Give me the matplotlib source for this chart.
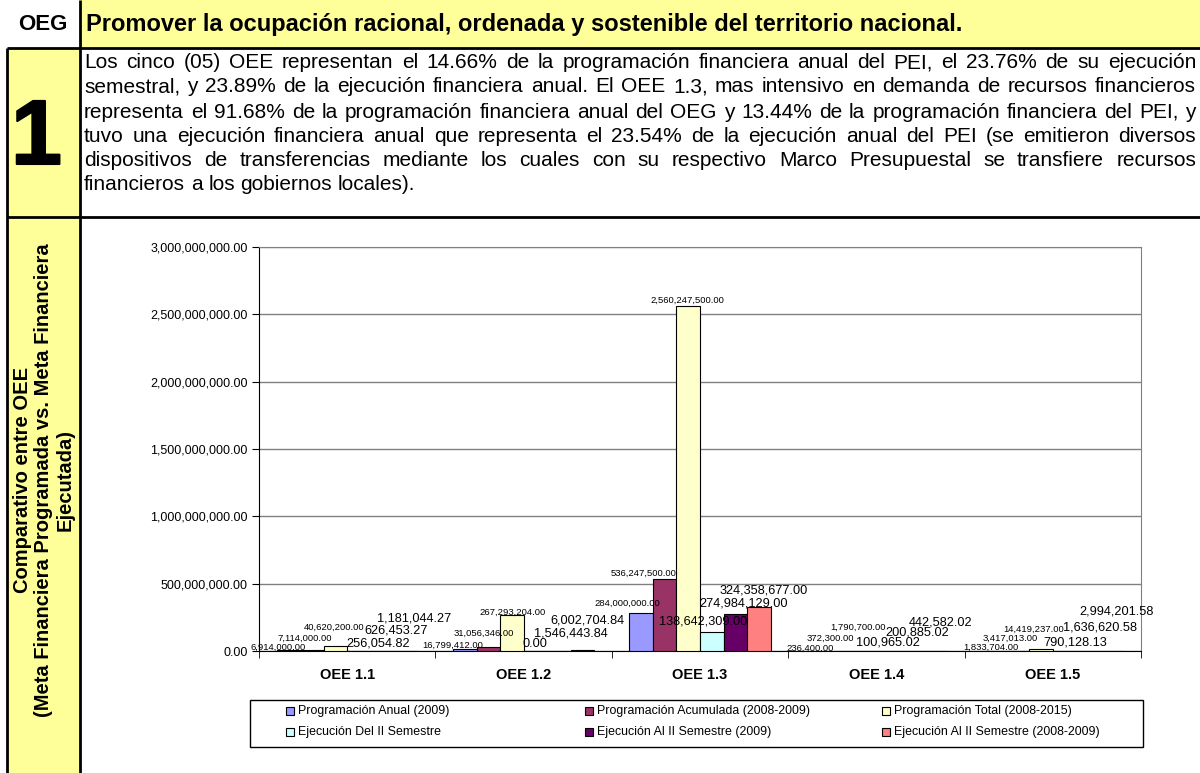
import numpy as np
import matplotlib
matplotlib.use('Agg')
import matplotlib.pyplot as plt
import matplotlib.patheffects as pe
from matplotlib.patches import Rectangle
from matplotlib.ticker import FuncFormatter, MultipleLocator, FixedLocator

plt.rcParams['font.family'] = ['Liberation Sans', 'DejaVu Sans']

# data
categories = ['OEE 1.1', 'OEE 1.2', 'OEE 1.3', 'OEE 1.4', 'OEE 1.5']
series_names = ['Programación Anual (2009)', 'Programación Acumulada (2008-2009)',
                'Programación Total (2008-2015)', 'Ejecución Del II Semestre',
                'Ejecución Al II Semestre (2009)', 'Ejecución Al II Semestre (2008-2009)']
prog_anual = [6914000.00, 16799412.00, 284000000.00, 236400.00, 1833704.00]
prog_acum = [7114000.00, 31056346.00, 536247500.00, 372300.00, 3417013.00]
prog_total = [40620200.00, 267293204.00, 2560247500.00, 1790700.00, 14419237.00]
ejec_sem = [256054.82, 0.00, 138642309.00, 100965.02, 790128.13]
ejec_2009 = [626453.27, 1546443.84, 274984129.00, 200885.02, 1636620.58]
ejec_0809 = [1181044.27, 6002704.84, 324358677.00, 442582.02, 2994201.58]
series = [prog_anual, prog_acum, prog_total, ejec_sem, ejec_2009, ejec_0809]

colors = ['#9999FF', '#993366', '#FFFFCC', '#CCFFFF', '#660066', '#FF8080']

# label offsets in pixels (dx, dy above bar top), the Excel labels were dragged around
label_off = [
    [(-10, 3), (-12, 3), (-14, 9), (-7, 3), (-3, 3)],
    [(-7, 12), (-5, 14), (-21, 5), (-11, 13), (-7, 12)],
    [(-1, 18), (1, 3), (-1, 6), (-7, 23), (-7, 20)],
    [(19, 7), (0, 7), (-9, 11), (0, 8), (11, 8)],
    [(14, 20), (12, 17), (8, 10), (6, 18), (12, 23)],
    [(8, 32), (5, 30), (5, 17), (5, 28), (5, 39)],
]

header = 'Promover la ocupación racional, ordenada y sostenible del territorio nacional.'
para = ['Los cinco (05) OEE representan el 14.66% de la programación financiera anual del PEI, el 23.76% de su ejecución',
        'semestral, y 23.89% de la ejecución financiera anual. El OEE 1.3, mas intensivo en demanda de recursos financieros',
        'representa el 91.68% de la programación financiera anual del OEG y 13.44% de la programación financiera del PEI, y',
        'tuvo una ejecución financiera anual que representa el 23.54% de la ejecución anual del PEI (se emitieron diversos',
        'dispositivos de transferencias mediante los cuales con su respectivo Marco Presupuestal se transfiere recursos',
        'financieros a los gobiernos locales).']
side_text = 'Comparativo entre OEE\n(Meta Financiera Programada vs. Meta Financiera\nEjecutada)'

W, H = 1200, 773
fig = plt.figure(figsize=(W / 100, H / 100), dpi=100)
fig.patch.set_facecolor('white')

# background "table" in pixel coordinates
bg = fig.add_axes([0, 0, 1, 1])
bg.set_xlim(0, W)
bg.set_ylim(H, 0)
bg.axis('off')
yellow = '#FFFF99'
bg.add_patch(Rectangle((80, 0), W - 80, 48, fc=yellow, ec='none'))
bg.add_patch(Rectangle((7, 48), 73, H - 48, fc=yellow, ec='none'))
lk = dict(color='black', lw=2, solid_capstyle='butt')
bg.plot([7, W], [48, 48], **lk)
bg.plot([7, W], [217, 217], **lk)
bg.plot([80, 80], [0, H], **lk)
bg.plot([7, 7], [48, H], **lk)

bg.text(43, 24, 'OEG', ha='center', va='center', weight='bold', size=16)
bg.text(86, 24, header, ha='left', va='center', weight='bold', size=17)
bg.text(11, 140, '1', ha='left', va='center', weight='bold', size=66,
        path_effects=[pe.withStroke(linewidth=1.5, foreground='black')])
bg.text(44, 480, side_text, ha='center', va='center', weight='bold', size=14.5,
        rotation=90, linespacing=1.15, multialignment='center')

fig.canvas.draw()
renderer = fig.canvas.get_renderer()
para_font = matplotlib.font_manager.FontProperties(family='Liberation Sans', size=15)


def text_width(s):
    w, h, d = renderer.get_text_width_height_descent(s, para_font, ismath=False)
    return w


space_w = text_width('a a') - 2 * text_width('a')


def justify(line, y, x0, x1, last=False):
    words = line.split()
    widths = [text_width(w) for w in words]
    gap = space_w if last else (x1 - x0 - sum(widths)) / (len(words) - 1)
    xx = x0
    for w, wd in zip(words, widths):
        bg.text(xx, y, w, va='center', ha='left', size=15)
        xx += wd + gap


line_y = [63, 87, 112, 136, 161, 185]
for i, (line, y) in enumerate(zip(para, line_y)):
    justify(line, y, 84, 1196, last=(i == len(para) - 1))

# chart
ax = fig.add_axes([259 / W, 1 - 651 / H, (1141 - 259) / W, (651 - 247) / H])
ax.set_zorder(2)
x = np.arange(len(categories))
bw = 0.8 / 6
for i, (vals, c) in enumerate(zip(series, colors)):
    pos = x + (i - 2.5) * bw
    ax.bar(pos, vals, width=bw, color=c, edgecolor='black', linewidth=0.8, zorder=3)
    small = i < 3
    for j, (px, v) in enumerate(zip(pos, vals)):
        dx, dy = label_off[i][j]
        ax.annotate(f'{v:,.2f}', (px, v), xytext=(dx, dy), textcoords='offset pixels',
                    ha='center', va='center', size=6.8 if small else 9.2, zorder=5)

ax.set_xlim(-0.5, len(categories) - 0.5)
ax.set_ylim(0, 3e9)
ax.yaxis.set_major_locator(MultipleLocator(5e8))
ax.yaxis.set_major_formatter(FuncFormatter(lambda v, p: f'{v:,.2f}'))
ax.grid(axis='y', color='#808080', lw=1, zorder=0)
ax.set_xticks(x)
ax.set_xticklabels(categories, weight='bold', size=10.5)
ax.xaxis.set_minor_locator(FixedLocator(np.arange(-0.5, len(categories), 1.0)))
ax.tick_params(axis='x', which='major', length=0, pad=12)
ax.tick_params(axis='x', which='minor', length=5, direction='out', color='black')
ax.tick_params(axis='y', length=5, direction='out', labelsize=9, pad=3)
ax.spines['left'].set_color('black')
ax.spines['bottom'].set_color('black')
ax.spines['top'].set_color('#808080')
ax.spines['right'].set_color('#808080')

# legend box drawn like the Excel one
bg.add_patch(Rectangle((250, 700), 893, 47, fc='white', ec='black', lw=1))
col_x = [286, 585, 882]
row_y = [711, 732]
for i, (name, c) in enumerate(zip(series_names, colors)):
    lx, ly = col_x[i % 3], row_y[i // 3]
    bg.add_patch(Rectangle((lx, ly - 4), 8, 8, fc=c, ec='black', lw=0.8))
    bg.text(lx + 12, ly, name, ha='left', va='center', size=8.9)

fig.savefig('out.png', dpi=100)
